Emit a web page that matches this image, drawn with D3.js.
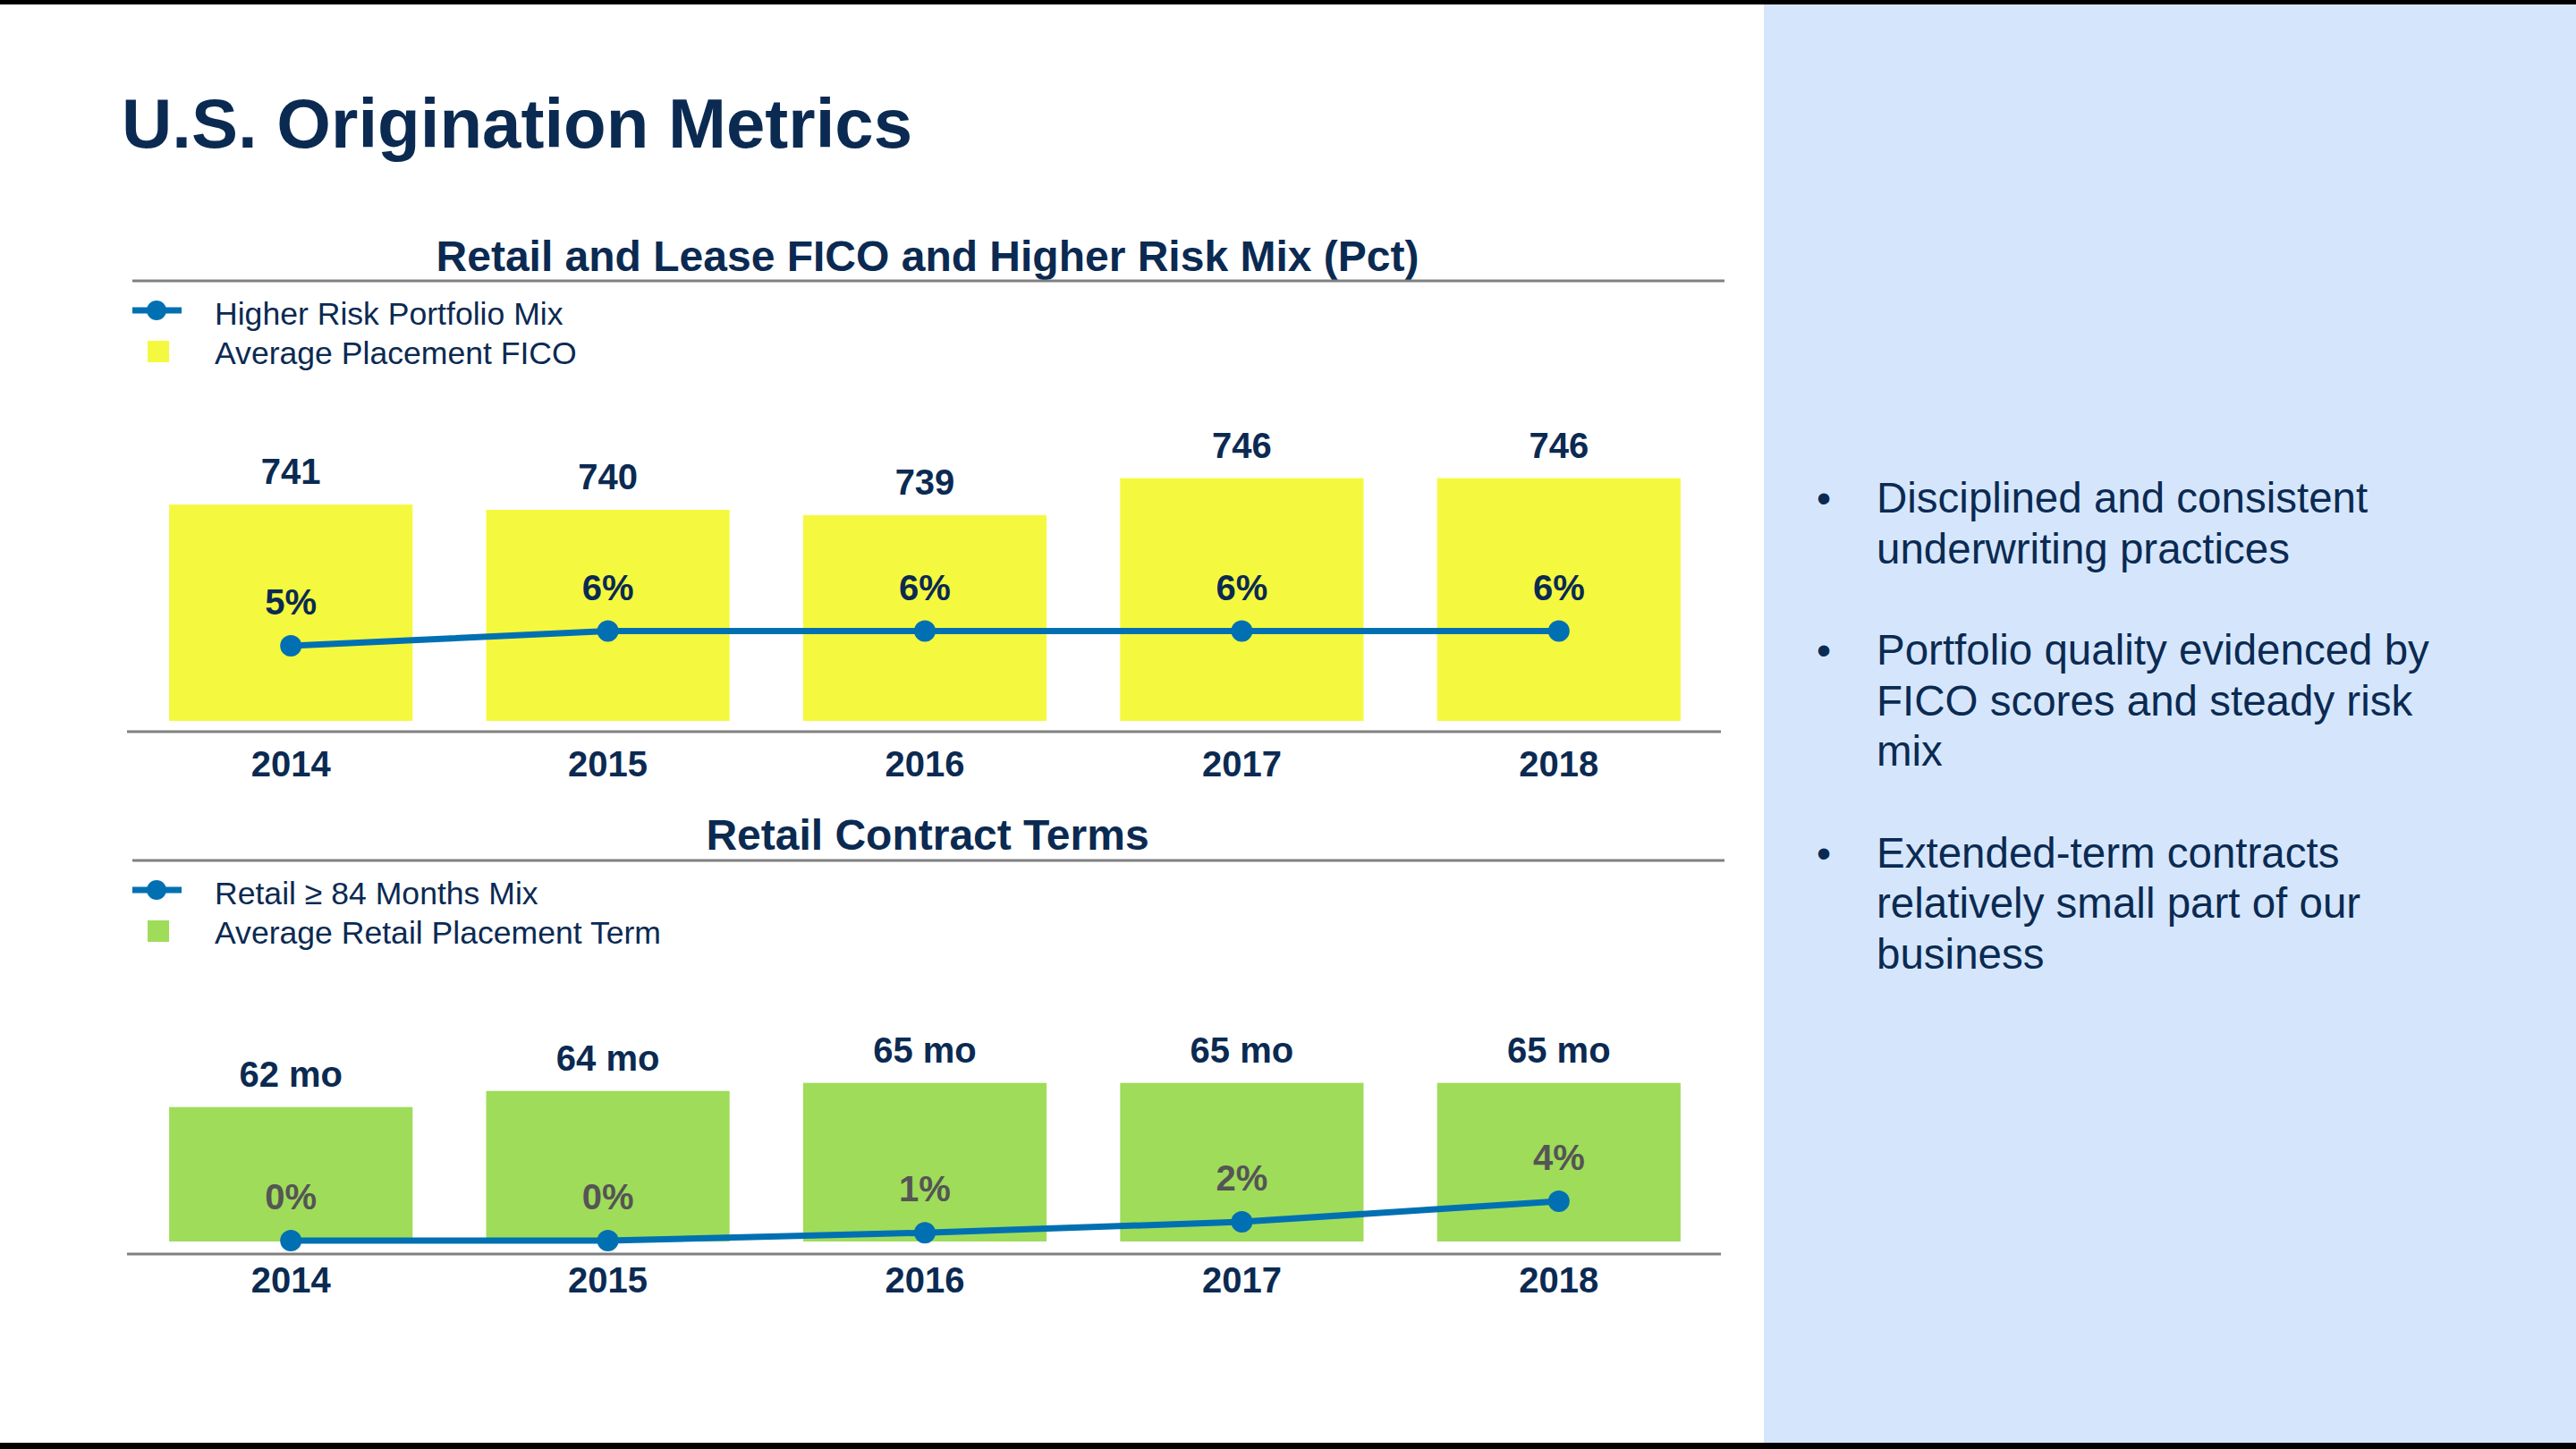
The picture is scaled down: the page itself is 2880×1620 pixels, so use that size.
<!DOCTYPE html>
<html>
<head>
<meta charset="utf-8">
<script src="https://cdn.jsdelivr.net/npm/d3@7"></script>
<style>
  html, body { margin: 0; padding: 0; background: #fff; }
  svg { display: block; }
  text { font-family: "Liberation Sans", Arial, sans-serif; }
</style>
</head>
<body>
<svg id="chart" width="2880" height="1620"></svg>
<script>
// ---- data ----
const years = ["2014", "2015", "2016", "2017", "2018"];
const ficoScores = [741, 740, 739, 746, 746];
const higherRiskMix = [5, 6, 6, 6, 6];
const retailTerms = [62, 64, 65, 65, 65];
const longTermMix = [0.0, 0.0, 0.8, 1.9, 4.0];

const pageTitle = "U.S. Origination Metrics";
const chart1Title = "Retail and Lease FICO and Higher Risk Mix (Pct)";
const chart1Legend = ["Higher Risk Portfolio Mix", "Average Placement FICO"];
const chart2Title = "Retail Contract Terms";
const chart2Legend = ["Retail \u2265 84 Months Mix", "Average Retail Placement Term"];
const bullets = [
  ["Disciplined and consistent", "underwriting practices"],
  ["Portfolio quality evidenced by", "FICO scores and steady risk", "mix"],
  ["Extended-term contracts", "relatively small part of our", "business"]
];

// ---- style ----
const navy = "#0B2A52";
const blue = "#0070B2";
const gray = "#808080";

const svg = d3.select("#chart");
svg.append("rect").attr("width", 2880).attr("height", 1620).attr("fill", "#fff");

// right panel
svg.append("rect").attr("x", 1972).attr("y", 0).attr("width", 908).attr("height", 1620).attr("fill", "#D5E6FC");
// top / bottom bands
svg.append("rect").attr("x", 0).attr("y", 0).attr("width", 2880).attr("height", 5).attr("fill", "#000");
svg.append("rect").attr("x", 0).attr("y", 1613).attr("width", 2880).attr("height", 7).attr("fill", "#000");

// page title
svg.append("text").attr("x", 136).attr("y", 165)
  .attr("font-size", 78).attr("font-weight", "bold").attr("fill", navy)
  .text(pageTitle);

// bullets
let by = 573;
bullets.forEach((lines, i) => {
  svg.append("text").attr("x", 2031).attr("y", by).attr("font-size", 46).attr("fill", navy).text("\u2022");
  lines.forEach((ln, j) => {
    svg.append("text").attr("x", 2098).attr("y", by + j * 56.5)
      .attr("font-size", 47.5).attr("fill", navy).text(ln);
  });
  by += lines.length * 56.5 + 57;
});

const x = d3.scaleBand().domain(years).range([148, 1920]).paddingInner(0.232).paddingOuter(0.116);

function drawChart(cfg) {
  const g = svg.append("g");
  // subtitle + rule
  g.append("text").attr("x", 1037).attr("y", cfg.titleY).attr("text-anchor", "middle")
    .attr("font-size", 48).attr("font-weight", "bold").attr("fill", navy).text(cfg.title);
  g.append("line").attr("x1", 148).attr("x2", 1928).attr("y1", cfg.ruleY).attr("y2", cfg.ruleY)
    .attr("stroke", gray).attr("stroke-width", 3);

  // legend
  const ly = cfg.ruleY + 33;
  g.append("line").attr("x1", 148).attr("x2", 203).attr("y1", ly).attr("y2", ly)
    .attr("stroke", blue).attr("stroke-width", 7);
  g.append("circle").attr("cx", 175).attr("cy", ly).attr("r", 11).attr("fill", blue);
  g.append("text").attr("x", 240).attr("y", cfg.ruleY + 49).attr("font-size", 35.6).attr("fill", navy).text(cfg.legend[0]);
  g.append("rect").attr("x", 165).attr("y", cfg.ruleY + 67).attr("width", 24).attr("height", 24).attr("fill", cfg.barColor);
  g.append("text").attr("x", 240).attr("y", cfg.ruleY + 93).attr("font-size", 35.6).attr("fill", navy).text(cfg.legend[1]);

  const yBar = d3.scaleLinear().domain(cfg.barDomain).range([cfg.barBottom, cfg.barTop]);
  const yLine = d3.scaleLinear().domain([0, 10]).range([cfg.lineZero, cfg.lineZero - 10 * cfg.linePx]);

  // bars
  g.selectAll(".bar").data(cfg.bars).join("rect")
    .attr("x", (d, i) => x(years[i])).attr("width", x.bandwidth())
    .attr("y", d => yBar(d)).attr("height", d => cfg.barBottom - yBar(d))
    .attr("fill", cfg.barColor);
  g.selectAll(".barlab").data(cfg.bars).join("text")
    .attr("x", (d, i) => x(years[i]) + x.bandwidth() / 2)
    .attr("y", d => yBar(d) - 23).attr("text-anchor", "middle")
    .attr("font-size", 40).attr("font-weight", "bold").attr("fill", navy)
    .text(d => cfg.barFmt(d));

  // axis line
  g.append("line").attr("x1", 142).attr("x2", 1924).attr("y1", cfg.axisY).attr("y2", cfg.axisY)
    .attr("stroke", gray).attr("stroke-width", 3);
  const xAxis = d3.axisBottom(x).tickSize(0).tickPadding(0);
  const ax = g.append("g").attr("transform", `translate(0,${cfg.axisY})`).call(xAxis);
  ax.select(".domain").remove();
  ax.selectAll("text").attr("dy", null).attr("y", cfg.yearY - cfg.axisY)
    .attr("font-size", 40).attr("font-weight", "bold").attr("fill", navy)
    .attr("font-family", "Liberation Sans, Arial, sans-serif");

  // line
  const cx = (d, i) => x(years[i]) + x.bandwidth() / 2;
  const line = d3.line().x(cx).y(d => yLine(d));
  g.append("path").datum(cfg.line).attr("d", line).attr("fill", "none")
    .attr("stroke", blue).attr("stroke-width", 7);
  g.selectAll(".dot").data(cfg.line).join("circle")
    .attr("cx", cx).attr("cy", d => yLine(d)).attr("r", 12).attr("fill", blue);
  g.selectAll(".linelab").data(cfg.line).join("text")
    .attr("x", cx).attr("y", d => yLine(d) - 35).attr("text-anchor", "middle")
    .attr("font-size", 40).attr("font-weight", "bold").attr("fill", cfg.lineLabColor)
    .text(d => Math.round(d) + "%");
}

drawChart({
  title: chart1Title, legend: chart1Legend, titleY: 303, ruleY: 314,
  bars: ficoScores, barColor: "#F4F93F", barDomain: [700, 760], barBottom: 806, barTop: 452,
  barFmt: d => String(d),
  line: higherRiskMix, lineZero: 804, linePx: 16.4, lineLabColor: navy,
  axisY: 818, yearY: 868
});

drawChart({
  title: chart2Title, legend: chart2Legend, titleY: 950, ruleY: 962,
  bars: retailTerms, barColor: "#9FDC5A", barDomain: [45.3, 65], barBottom: 1388, barTop: 1210.7,
  barFmt: d => d + " mo",
  line: longTermMix, lineZero: 1387, linePx: 11, lineLabColor: "#555555",
  axisY: 1402, yearY: 1445
});
</script>
</body>
</html>
